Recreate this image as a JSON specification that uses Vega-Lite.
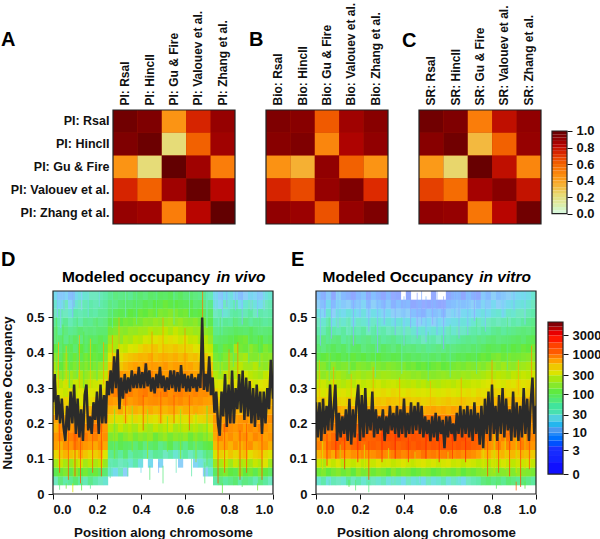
{"$schema":"https://vega.github.io/schema/vega-lite/v6.json","padding":{"left":0,"top":2,"right":0,"bottom":0},"background":"white","config":{"view":{"stroke":null},"font":"Liberation Sans","axis":{"labelFont":"Liberation Sans","titleFont":"Liberation Sans","labelFontWeight":"bold","titleFontWeight":"bold","labelColor":"#111","titleColor":"#111","tickColor":"#111","domainColor":"#111","grid":false},"title":{"font":"Liberation Sans","fontWeight":"bold","fontSize":20,"anchor":"start","frame":"group","color":"#000"}},
"datasets":{"frame":[{"f":1}],
"streakD":[{"x":0.02,"y":0.5,"y2":0.575,"n":6},{"x":0.035,"y":0.47,"y2":0.575,"n":8},{"x":0.05,"y":0.52,"y2":0.575,"n":5},{"x":0.09,"y":0.5,"y2":0.575,"n":4},{"x":0.096,"y":0.53,"y2":0.575,"n":3},{"x":0.13,"y":0.52,"y2":0.575,"n":10},{"x":0.16,"y":0.5,"y2":0.575,"n":15},{"x":0.21,"y":0.53,"y2":0.575,"n":12},{"x":0.74,"y":0.52,"y2":0.575,"n":10},{"x":0.77,"y":0.5,"y2":0.575,"n":6},{"x":0.79,"y":0.53,"y2":0.575,"n":4},{"x":0.8,"y":0.5,"y2":0.575,"n":12},{"x":0.83,"y":0.52,"y2":0.575,"n":5},{"x":0.86,"y":0.48,"y2":0.575,"n":5},{"x":0.9,"y":0.52,"y2":0.575,"n":8},{"x":0.93,"y":0.5,"y2":0.575,"n":6},{"x":0.96,"y":0.52,"y2":0.575,"n":10},
{"x":0.03,"y":0.06,"y2":0.2,"n":1400},{"x":0.07,"y":0.04,"y2":0.18,"n":1200},{"x":0.1,"y":0.05,"y2":0.17,"n":1500},{"x":0.125,"y":0.03,"y2":0.2,"n":1300},{"x":0.18,"y":0.06,"y2":0.18,"n":1200},{"x":0.22,"y":0.05,"y2":0.2,"n":1500},{"x":0.75,"y":0.03,"y2":0.18,"n":1400},{"x":0.78,"y":0.06,"y2":0.2,"n":1200},{"x":0.85,"y":0.04,"y2":0.18,"n":1500},{"x":0.88,"y":0.06,"y2":0.2,"n":1300},{"x":0.95,"y":0.04,"y2":0.19,"n":1500},
{"x":0.68,"y":0.3,"y2":0.575,"n":900},{"x":0.6,"y":0.35,"y2":0.47,"n":700},{"x":0.5,"y":0.36,"y2":0.5,"n":600},{"x":0.45,"y":0.35,"y2":0.46,"n":700},{"x":0.3,"y":0.35,"y2":0.5,"n":500},{"x":0.27,"y":0.33,"y2":0.45,"n":700},{"x":0.84,"y":0.33,"y2":0.43,"n":800},{"x":0.8,"y":0.3,"y2":0.41,"n":700},
{"x":0.28,"y":0.1,"y2":0.24,"n":120},{"x":0.36,"y":0.12,"y2":0.25,"n":150},{"x":0.43,"y":0.1,"y2":0.24,"n":180},{"x":0.52,"y":0.12,"y2":0.22,"n":120},{"x":0.58,"y":0.1,"y2":0.24,"n":150},{"x":0.65,"y":0.09,"y2":0.23,"n":180},{"x":0.7,"y":0.08,"y2":0.25,"n":100},
{"x":0.33,"y":0.2,"y2":0.29,"n":1200},{"x":0.41,"y":0.18,"y2":0.28,"n":1400},{"x":0.49,"y":0.2,"y2":0.29,"n":1200},{"x":0.55,"y":0.2,"y2":0.28,"n":1400},{"x":0.62,"y":0.18,"y2":0.28,"n":1200},
{"x":0.27,"y":0.47,"y2":0.575,"n":40},{"x":0.33,"y":0.5,"y2":0.575,"n":30},{"x":0.38,"y":0.48,"y2":0.575,"n":45},{"x":0.47,"y":0.5,"y2":0.575,"n":50},{"x":0.55,"y":0.48,"y2":0.575,"n":40},{"x":0.62,"y":0.5,"y2":0.575,"n":30},{"x":0.7,"y":0.47,"y2":0.575,"n":20},
{"x":0.015,"y":0.33,"y2":0.5,"n":90},{"x":0.045,"y":0.32,"y2":0.48,"n":100},{"x":0.075,"y":0.3,"y2":0.45,"n":80},{"x":0.11,"y":0.33,"y2":0.5,"n":70},{"x":0.14,"y":0.3,"y2":0.46,"n":100},{"x":0.2,"y":0.32,"y2":0.5,"n":80},{"x":0.025,"y":0.3,"y2":0.43,"n":500},{"x":0.06,"y":0.31,"y2":0.42,"n":400},{"x":0.12,"y":0.3,"y2":0.45,"n":500},{"x":0.17,"y":0.3,"y2":0.44,"n":400},{"x":0.23,"y":0.31,"y2":0.43,"n":600},{"x":0.76,"y":0.34,"y2":0.5,"n":80},{"x":0.82,"y":0.36,"y2":0.5,"n":70},{"x":0.89,"y":0.37,"y2":0.5,"n":60},{"x":0.94,"y":0.36,"y2":0.5,"n":70},
{"x":0.26,"y":0.045,"y2":0.09,"n":40},{"x":0.3,"y":0.06,"y2":0.1,"n":30},{"x":0.34,"y":0.05,"y2":0.09,"n":50},{"x":0.4,"y":0.06,"y2":0.1,"n":15},{"x":0.44,"y":0.04,"y2":0.08,"n":60},{"x":0.48,"y":0.06,"y2":0.09,"n":5},{"x":0.5,"y":0.03,"y2":0.08,"n":60},{"x":0.56,"y":0.06,"y2":0.1,"n":30},{"x":0.63,"y":0.05,"y2":0.1,"n":40},{"x":0.69,"y":0.03,"y2":0.09,"n":60},{"x":0.03,"y":0.012,"y2":0.03,"n":60},{"x":0.06,"y":0.015,"y2":0.03,"n":120},{"x":0.09,"y":0.005,"y2":0.03,"n":300},{"x":0.13,"y":0.01,"y2":0.03,"n":100},{"x":0.17,"y":0.015,"y2":0.03,"n":50},{"x":0.77,"y":0.003,"y2":0.03,"n":100},{"x":0.86,"y":0.02,"y2":0.04,"n":80},{"x":0.93,"y":0.01,"y2":0.03,"n":120}],
"streakE":[{"x":0.02,"y":0.42,"y2":0.575,"n":5},{"x":0.04,"y":0.5,"y2":0.575,"n":3},{"x":0.07,"y":0.44,"y2":0.575,"n":4},{"x":0.1,"y":0.47,"y2":0.575,"n":6},{"x":0.17,"y":0.42,"y2":0.575,"n":3},{"x":0.2,"y":0.5,"y2":0.575,"n":5},{"x":0.24,"y":0.46,"y2":0.575,"n":4},{"x":0.28,"y":0.4,"y2":0.56,"n":5},{"x":0.31,"y":0.48,"y2":0.575,"n":3},{"x":0.36,"y":0.45,"y2":0.575,"n":4},{"x":0.4,"y":0.42,"y2":0.56,"n":6},{"x":0.43,"y":0.47,"y2":0.575,"n":3},{"x":0.46,"y":0.44,"y2":0.57,"n":2},{"x":0.48,"y":0.48,"y2":0.575,"n":4},{"x":0.5,"y":0.43,"y2":0.56,"n":5},{"x":0.53,"y":0.48,"y2":0.575,"n":2},{"x":0.55,"y":0.45,"y2":0.575,"n":4},{"x":0.58,"y":0.41,"y2":0.56,"n":3},{"x":0.63,"y":0.5,"y2":0.575,"n":6},{"x":0.65,"y":0.44,"y2":0.575,"n":4},{"x":0.69,"y":0.45,"y2":0.575,"n":5},{"x":0.72,"y":0.49,"y2":0.575,"n":3},{"x":0.77,"y":0.46,"y2":0.575,"n":6},{"x":0.85,"y":0.5,"y2":0.575,"n":7},{"x":0.9,"y":0.52,"y2":0.575,"n":5},{"x":0.95,"y":0.48,"y2":0.575,"n":8},
{"x":0.05,"y":0.08,"y2":0.17,"n":1800},{"x":0.09,"y":0.1,"y2":0.17,"n":2000},{"x":0.13,"y":0.07,"y2":0.16,"n":1800},{"x":0.19,"y":0.09,"y2":0.17,"n":2000},{"x":0.24,"y":0.04,"y2":0.15,"n":1500},{"x":0.3,"y":0.09,"y2":0.18,"n":2000},{"x":0.36,"y":0.1,"y2":0.17,"n":2200},{"x":0.42,"y":0.09,"y2":0.16,"n":1800},{"x":0.5,"y":0.1,"y2":0.17,"n":2200},{"x":0.56,"y":0.09,"y2":0.16,"n":2000},{"x":0.62,"y":0.1,"y2":0.17,"n":1800},{"x":0.68,"y":0.09,"y2":0.16,"n":2000},{"x":0.78,"y":0.05,"y2":0.15,"n":1400},{"x":0.83,"y":0.06,"y2":0.16,"n":1500},{"x":0.88,"y":0.05,"y2":0.15,"n":1600},{"x":0.93,"y":0.02,"y2":0.16,"n":1500},{"x":0.97,"y":0.07,"y2":0.15,"n":1400},
{"x":0.03,"y":0.07,"y2":0.15,"n":300},{"x":0.11,"y":0.08,"y2":0.14,"n":250},{"x":0.22,"y":0.07,"y2":0.14,"n":300},{"x":0.33,"y":0.08,"y2":0.13,"n":280},{"x":0.45,"y":0.08,"y2":0.12,"n":300},{"x":0.6,"y":0.08,"y2":0.12,"n":300},{"x":0.76,"y":0.07,"y2":0.18,"n":300},{"x":0.81,"y":0.06,"y2":0.17,"n":250},{"x":0.86,"y":0.07,"y2":0.16,"n":300},{"x":0.91,"y":0.06,"y2":0.16,"n":280},{"x":0.95,"y":0.07,"y2":0.17,"n":350},
{"x":0.015,"y":0.27,"y2":0.38,"n":500},{"x":0.08,"y":0.26,"y2":0.36,"n":600},{"x":0.16,"y":0.25,"y2":0.34,"n":500},{"x":0.26,"y":0.25,"y2":0.36,"n":600},{"x":0.38,"y":0.24,"y2":0.33,"n":600},{"x":0.52,"y":0.24,"y2":0.32,"n":500},{"x":0.66,"y":0.24,"y2":0.33,"n":600},{"x":0.8,"y":0.27,"y2":0.38,"n":700},{"x":0.92,"y":0.28,"y2":0.38,"n":500},{"x":0.98,"y":0.3,"y2":0.42,"n":700},
{"x":0.06,"y":0.32,"y2":0.5,"n":60},{"x":0.15,"y":0.34,"y2":0.5,"n":40},{"x":0.27,"y":0.33,"y2":0.48,"n":50},{"x":0.39,"y":0.34,"y2":0.5,"n":35},{"x":0.51,"y":0.32,"y2":0.46,"n":50},{"x":0.61,"y":0.33,"y2":0.48,"n":40},{"x":0.73,"y":0.34,"y2":0.5,"n":50},{"x":0.87,"y":0.35,"y2":0.5,"n":60},
{"x":0.06,"y":0.025,"y2":0.04,"n":40},{"x":0.15,"y":0.02,"y2":0.04,"n":100},{"x":0.18,"y":0.01,"y2":0.04,"n":70},{"x":0.24,"y":0.005,"y2":0.035,"n":60},{"x":0.35,"y":0.03,"y2":0.05,"n":15},{"x":0.47,"y":0.03,"y2":0.05,"n":10},{"x":0.65,"y":0.03,"y2":0.05,"n":12},{"x":0.82,"y":0.015,"y2":0.035,"n":80},{"x":0.91,"y":0.01,"y2":0.035,"n":1000},{"x":0.95,"y":0.015,"y2":0.035,"n":100}],
"heatD":[
{"p":0.011,"2":30,"3":90,"4":180,"5":350,"6":600,"7":650,"8":500,"9":600,"10":400,"11":350,"12":320,"13":300,"14":260,"15":200,"16":150,"17":100,"18":60,"19":60,"20":45,"21":30,"22":25,"23":15},
{"p":0.034,"2":60,"3":110,"4":250,"5":400,"6":500,"7":750,"8":700,"9":500,"10":450,"11":300,"12":280,"13":220,"14":150,"15":100,"16":80,"17":70,"18":70,"19":45,"20":40,"21":35,"22":15,"23":8},
{"p":0.057,"2":40,"3":130,"4":200,"5":500,"6":700,"7":600,"8":800,"9":550,"10":400,"11":380,"12":250,"13":270,"14":170,"15":140,"16":120,"17":80,"18":55,"19":60,"20":50,"21":30,"22":30,"23":12},
{"p":0.08,"2":50,"3":90,"4":170,"5":450,"6":650,"7":800,"8":650,"9":600,"10":500,"11":320,"12":320,"13":200,"14":190,"15":110,"16":90,"17":90,"18":65,"19":50,"20":35,"21":25,"22":12,"23":6},
{"p":0.102,"2":70,"3":140,"4":220,"5":380,"6":800,"7":900,"8":750,"9":550,"10":420,"11":350,"12":260,"13":260,"14":150,"15":130,"16":110,"17":70,"18":80,"19":55,"20":45,"21":40,"22":25,"23":15},
{"p":0.125,"2":45,"3":100,"4":260,"5":550,"6":750,"7":700,"8":850,"9":600,"10":380,"11":300,"12":300,"13":230,"14":200,"15":120,"16":90,"17":100,"18":60,"19":70,"20":40,"21":35,"22":30,"23":20},
{"p":0.148,"2":35,"3":120,"4":190,"5":420,"6":650,"7":850,"8":700,"9":500,"10":450,"11":400,"12":270,"13":210,"14":160,"15":140,"16":120,"17":75,"18":70,"19":60,"20":55,"21":40,"22":35,"23":25},
{"p":0.17,"2":55,"3":90,"4":230,"5":350,"6":600,"7":700,"8":780,"9":650,"10":500,"11":330,"12":300,"13":240,"14":180,"15":110,"16":100,"17":90,"18":80,"19":65,"20":50,"21":45,"22":40,"23":30},
{"p":0.193,"2":40,"3":110,"4":200,"5":380,"6":550,"7":800,"8":900,"9":700,"10":480,"11":380,"12":290,"13":260,"14":170,"15":130,"16":110,"17":100,"18":75,"19":60,"20":60,"21":40,"22":35,"23":30},
{"p":0.216,"2":30,"3":80,"4":240,"5":450,"6":700,"7":650,"8":720,"9":620,"10":520,"11":360,"12":340,"13":280,"14":200,"15":150,"16":100,"17":85,"18":90,"19":70,"20":55,"21":50,"22":40,"23":35},
{"p":0.239,"2":25,"3":70,"4":160,"5":300,"6":550,"7":700,"8":650,"9":700,"10":550,"11":420,"12":380,"13":320,"14":240,"15":170,"16":130,"17":110,"18":80,"19":70,"20":60,"21":50,"22":45,"23":40},
{"p":0.261,"3":25,"4":35,"5":50,"6":80,"7":130,"8":220,"9":350,"10":500,"11":650,"12":700,"13":650,"14":600,"15":420,"16":300,"17":220,"18":170,"19":120,"20":90,"21":70,"22":60,"23":50},
{"p":0.284,"3":15,"4":40,"5":60,"6":70,"7":160,"8":180,"9":320,"10":450,"11":600,"12":800,"13":700,"14":500,"15":500,"16":350,"17":200,"18":200,"19":130,"20":110,"21":80,"22":55,"23":60},
{"p":0.307,"3":30,"4":30,"5":45,"6":90,"7":110,"8":250,"9":280,"10":550,"11":550,"12":650,"13":750,"14":650,"15":400,"16":320,"17":260,"18":150,"19":150,"20":100,"21":90,"22":70,"23":55},
{"p":0.33,"3":10,"4":35,"5":70,"6":80,"7":140,"8":200,"9":360,"10":400,"11":700,"12":750,"13":650,"14":600,"15":480,"16":380,"17":240,"18":210,"19":140,"20":120,"21":85,"22":75,"23":60},
{"p":0.352,"4":25,"5":40,"6":75,"7":170,"8":230,"9":300,"10":480,"11":620,"12":800,"13":800,"14":550,"15":550,"16":420,"17":300,"18":190,"19":170,"20":110,"21":100,"22":70,"23":50},
{"p":0.375,"4":40,"5":55,"6":65,"7":120,"8":190,"9":340,"10":520,"11":680,"12":700,"13":850,"14":700,"15":600,"16":450,"17":280,"18":240,"19":160,"20":130,"21":90,"22":80,"23":65},
{"p":0.398,"4":20,"5":50,"6":85,"7":150,"8":260,"9":290,"10":450,"11":750,"12":780,"13":700,"14":750,"15":550,"16":500,"17":350,"18":220,"19":190,"20":120,"21":110,"22":75,"23":70},
{"p":0.42,"5":40,"6":60,"7":130,"8":210,"9":350,"10":500,"11":650,"12":850,"13":800,"14":700,"15":650,"16":480,"17":400,"18":280,"19":180,"20":150,"21":100,"22":90,"23":60},
{"p":0.443,"4":15,"5":35,"6":70,"7":160,"8":180,"9":330,"10":550,"11":700,"12":700,"13":750,"14":800,"15":600,"16":550,"17":380,"18":260,"19":220,"20":140,"21":120,"22":80,"23":75},
{"p":0.466,"5":50,"6":80,"7":110,"8":240,"9":300,"10":470,"11":720,"12":800,"13":850,"14":650,"15":620,"16":450,"17":420,"18":300,"19":200,"20":170,"21":110,"22":100,"23":70},
{"p":0.489,"4":12,"5":45,"6":55,"7":140,"8":200,"9":380,"10":520,"11":680,"12":750,"13":700,"14":750,"15":580,"16":500,"17":350,"18":330,"19":210,"20":150,"21":130,"22":90,"23":80},
{"p":0.511,"5":30,"6":65,"7":170,"8":230,"9":320,"10":480,"11":650,"12":850,"13":780,"14":620,"15":650,"16":520,"17":400,"18":280,"19":240,"20":160,"21":120,"22":110,"23":75},
{"p":0.534,"5":40,"6":90,"7":120,"8":260,"9":350,"10":550,"11":720,"12":700,"13":820,"14":700,"15":560,"16":480,"17":380,"18":320,"19":200,"20":180,"21":140,"22":95,"23":85},
{"p":0.557,"5":25,"6":60,"7":150,"8":190,"9":300,"10":500,"11":680,"12":780,"13":750,"14":720,"15":620,"16":530,"17":420,"18":300,"19":250,"20":150,"21":130,"22":100,"23":70},
{"p":0.58,"4":10,"5":35,"6":70,"7":130,"8":220,"9":340,"10":460,"11":740,"12":820,"13":700,"14":650,"15":600,"16":450,"17":370,"18":260,"19":210,"20":170,"21":110,"22":90,"23":80},
{"p":0.602,"5":45,"6":55,"7":160,"8":240,"9":310,"10":520,"11":650,"12":750,"13":800,"14":680,"15":540,"16":500,"17":340,"18":290,"19":190,"20":140,"21":120,"22":85,"23":65},
{"p":0.625,"5":30,"6":80,"7":110,"8":200,"9":360,"10":480,"11":700,"12":720,"13":720,"14":620,"15":580,"16":420,"17":360,"18":240,"19":200,"20":130,"21":100,"22":90,"23":70},
{"p":0.648,"4":12,"5":40,"6":65,"7":140,"8":230,"9":300,"10":550,"11":640,"12":780,"13":680,"14":600,"15":500,"16":450,"17":300,"18":250,"19":170,"20":150,"21":90,"22":70,"23":60},
{"p":0.67,"4":20,"5":35,"6":75,"7":120,"8":180,"9":340,"10":500,"11":680,"12":700,"13":700,"14":550,"15":520,"16":380,"17":320,"18":200,"19":180,"20":120,"21":100,"22":75,"23":55},
{"p":0.693,"3":10,"4":30,"5":50,"6":90,"7":150,"8":210,"9":360,"10":470,"11":620,"12":720,"13":620,"14":580,"15":450,"16":400,"17":260,"18":220,"19":150,"20":110,"21":80,"22":60,"23":50},
{"p":0.716,"3":25,"4":40,"5":60,"6":100,"7":180,"8":260,"9":400,"10":520,"11":600,"12":650,"13":600,"14":500,"15":420,"16":300,"17":240,"18":160,"19":130,"20":90,"21":75,"22":55,"23":35},
{"p":0.739,"2":40,"3":80,"4":170,"5":280,"6":450,"7":550,"8":600,"9":650,"10":600,"11":480,"12":380,"13":280,"14":210,"15":150,"16":120,"17":100,"18":70,"19":55,"20":45,"21":30,"22":20,"23":15},
{"p":0.761,"2":60,"3":110,"4":200,"5":380,"6":550,"7":750,"8":620,"9":580,"10":450,"11":400,"12":320,"13":300,"14":180,"15":170,"16":110,"17":85,"18":75,"19":50,"20":35,"21":35,"22":12,"23":8},
{"p":0.784,"2":45,"3":130,"4":240,"5":320,"6":600,"7":600,"8":800,"9":620,"10":520,"11":380,"12":350,"13":260,"14":240,"15":140,"16":130,"17":110,"18":80,"19":65,"20":50,"21":25,"22":30,"23":15},
{"p":0.807,"2":55,"3":100,"4":180,"5":420,"6":500,"7":700,"8":700,"9":700,"10":450,"11":450,"12":300,"13":280,"14":200,"15":180,"16":150,"17":100,"18":90,"19":70,"20":45,"21":40,"22":25,"23":20},
{"p":0.83,"2":70,"3":90,"4":260,"5":350,"6":650,"7":580,"8":650,"9":600,"10":550,"11":400,"12":380,"13":320,"14":220,"15":200,"16":140,"17":200,"18":100,"19":80,"20":60,"21":45,"22":35,"23":12},
{"p":0.852,"2":40,"3":140,"4":200,"5":400,"6":500,"7":650,"8":750,"9":650,"10":480,"11":420,"12":340,"13":300,"14":260,"15":230,"16":170,"17":120,"18":110,"19":75,"20":50,"21":40,"22":15,"23":6},
{"p":0.875,"2":60,"3":100,"4":220,"5":450,"6":600,"7":700,"8":600,"9":700,"10":550,"11":380,"12":420,"13":280,"14":280,"15":190,"16":200,"17":110,"18":120,"19":70,"20":60,"21":35,"22":25,"23":10},
{"p":0.898,"2":50,"3":120,"4":190,"5":320,"6":700,"7":600,"8":720,"9":600,"10":500,"11":500,"12":330,"13":350,"14":230,"15":180,"16":140,"17":150,"18":90,"19":85,"20":45,"21":45,"22":30,"23":15},
{"p":0.92,"2":35,"3":90,"4":250,"5":380,"6":520,"7":750,"8":650,"9":680,"10":450,"11":420,"12":380,"13":270,"14":210,"15":220,"16":130,"17":120,"18":80,"19":70,"20":55,"21":30,"22":20,"23":12},
{"p":0.943,"2":60,"3":130,"4":210,"5":420,"6":580,"7":650,"8":780,"9":600,"10":520,"11":380,"12":350,"13":300,"14":190,"15":170,"16":160,"17":100,"18":100,"19":60,"20":50,"21":40,"22":15,"23":8},
{"p":0.966,"2":45,"3":100,"4":300,"5":350,"6":650,"7":600,"8":680,"9":650,"10":480,"11":450,"12":320,"13":320,"14":240,"15":150,"16":140,"17":130,"18":75,"19":65,"20":45,"21":35,"22":30,"23":20},
{"p":0.989,"2":30,"3":80,"4":180,"5":300,"6":500,"7":650,"8":600,"9":700,"10":550,"11":500,"12":400,"13":350,"14":280,"15":200,"16":150,"17":110,"18":85,"19":70,"20":50,"21":40,"22":35,"23":25}],
"heatE":[
{"p":0.011,"2":25,"3":110,"4":250,"5":500,"6":800,"7":700,"8":600,"9":550,"10":450,"11":380,"12":320,"13":240,"14":180,"15":130,"16":90,"17":70,"18":55,"19":40,"20":30,"21":20,"22":10,"23":6},
{"p":0.034,"2":40,"3":130,"4":200,"5":600,"6":700,"7":850,"8":700,"9":650,"10":400,"11":420,"12":280,"13":260,"14":150,"15":140,"16":100,"17":60,"18":60,"19":35,"20":25,"21":12,"22":6,"23":4},
{"p":0.057,"2":20,"3":100,"4":280,"5":700,"6":900,"7":800,"8":850,"9":600,"10":500,"11":350,"12":320,"13":220,"14":190,"15":110,"16":110,"17":75,"18":50,"19":50,"20":35,"21":25,"22":15,"23":8},
{"p":0.08,"2":35,"3":120,"4":240,"5":550,"6":1000,"7":950,"8":800,"9":700,"10":450,"11":400,"12":300,"13":250,"14":160,"15":150,"16":90,"17":85,"18":60,"19":40,"20":20,"21":10,"22":5,"23":3},
{"p":0.102,"2":30,"3":140,"4":300,"5":750,"6":1100,"7":1000,"8":900,"9":650,"10":550,"11":370,"12":290,"13":230,"14":200,"15":120,"16":100,"17":70,"18":65,"19":35,"20":30,"21":20,"22":12,"23":10},
{"p":0.125,"2":25,"3":110,"4":220,"5":650,"6":950,"7":1100,"8":850,"9":750,"10":500,"11":350,"12":310,"13":210,"14":170,"15":130,"16":85,"17":80,"18":45,"19":45,"20":25,"21":15,"22":8,"23":5},
{"p":0.148,"2":45,"3":130,"4":260,"5":600,"6":850,"7":900,"8":1000,"9":680,"10":420,"11":400,"12":270,"13":240,"14":150,"15":140,"16":95,"17":65,"18":55,"19":30,"20":30,"21":22,"22":10,"23":4},
{"p":0.17,"2":30,"3":100,"4":240,"5":700,"6":1000,"7":950,"8":800,"9":720,"10":560,"11":360,"12":300,"13":220,"14":180,"15":110,"16":105,"17":75,"18":60,"19":40,"20":20,"21":18,"22":6,"23":3},
{"p":0.193,"2":40,"3":150,"4":280,"5":650,"6":1100,"7":1000,"8":950,"9":650,"10":500,"11":390,"12":340,"13":260,"14":200,"15":140,"16":90,"17":80,"18":50,"19":35,"20":28,"21":14,"22":8,"23":5},
{"p":0.216,"2":25,"3":120,"4":230,"5":750,"6":950,"7":1150,"8":850,"9":700,"10":480,"11":420,"12":300,"13":230,"14":170,"15":130,"16":100,"17":60,"18":55,"19":45,"20":25,"21":20,"22":12,"23":7},
{"p":0.239,"2":35,"3":130,"4":270,"5":650,"6":1000,"7":1000,"8":900,"9":750,"10":550,"11":380,"12":310,"13":250,"14":190,"15":120,"16":85,"17":70,"18":60,"19":30,"20":22,"21":12,"22":5,"23":3},
{"p":0.261,"2":30,"3":110,"4":250,"5":700,"6":1100,"7":1050,"8":1000,"9":700,"10":500,"11":400,"12":330,"13":240,"14":180,"15":150,"16":95,"17":75,"18":50,"19":40,"20":28,"21":18,"22":10,"23":6},
{"p":0.284,"2":25,"3":130,"4":300,"5":800,"6":1000,"7":1150,"8":950,"9":800,"10":520,"11":430,"12":320,"13":270,"14":170,"15":130,"16":100,"17":65,"18":55,"19":35,"20":25,"21":15,"22":7,"23":4},
{"p":0.307,"2":35,"3":120,"4":260,"5":750,"6":1150,"7":1200,"8":1050,"9":750,"10":580,"11":400,"12":340,"13":230,"14":190,"15":120,"16":90,"17":80,"18":45,"19":40,"20":20,"21":12,"22":5,"23":3},
{"p":0.33,"2":20,"3":100,"4":280,"5":700,"6":1100,"7":1300,"8":1100,"9":850,"10":600,"11":450,"12":310,"13":250,"14":180,"15":140,"16":85,"17":70,"18":50,"19":30,"20":24,"21":14,"22":8,"23":5},
{"p":0.352,"2":30,"3":140,"4":240,"5":800,"6":1200,"7":1250,"8":1200,"9":800,"10":550,"11":420,"12":350,"13":260,"14":170,"15":130,"16":95,"17":60,"18":55,"19":35,"20":18,"21":10,"22":4,"23":2},
{"p":0.375,"2":25,"3":110,"4":270,"5":850,"6":1000,"7":1350,"8":1100,"9":900,"10":620,"11":400,"12":320,"13":240,"14":160,"15":120,"16":90,"17":75,"18":45,"19":30,"20":22,"21":10,"22":6,"23":3},
{"p":0.398,"2":15,"3":130,"4":300,"5":750,"6":1100,"7":1200,"8":1250,"9":850,"10":580,"11":430,"12":300,"13":230,"14":180,"15":130,"16":80,"17":65,"18":50,"19":28,"20":16,"21":8,"22":4},
{"p":0.42,"2":30,"3":120,"4":260,"5":800,"6":1250,"7":1150,"8":1150,"9":800,"10":600,"11":410,"12":330,"13":220,"14":170,"15":110,"16":85,"17":60,"18":40,"19":30,"20":18,"21":10,"22":5,"23":3},
{"p":0.443,"2":20,"3":100,"4":240,"5":850,"6":1100,"7":1300,"8":1050,"9":850,"10":550,"11":380,"12":310,"13":240,"14":150,"15":120,"16":75,"17":65,"18":35,"19":25,"20":14,"21":6,"22":3},
{"p":0.466,"2":25,"3":110,"4":280,"5":750,"6":1300,"7":1250,"8":1100,"9":750,"10":580,"11":400,"12":290,"13":210,"14":160,"15":100,"16":80,"17":55,"18":40,"19":22,"20":10,"21":5,"22":4},
{"p":0.489,"2":15,"3":130,"4":300,"5":900,"6":1200,"7":1150,"8":1200,"9":800,"10":520,"11":360,"12":300,"13":230,"14":140,"15":110,"16":70,"17":60,"18":30,"19":25,"20":12,"21":4,"22":2},
{"p":0.511,"2":30,"3":120,"4":260,"5":800,"6":1100,"7":1300,"8":1250,"9":850,"10":560,"11":380,"12":280,"13":200,"14":150,"15":100,"16":75,"17":50,"18":35,"19":20,"20":14,"21":8,"22":3},
{"p":0.534,"2":20,"3":100,"4":290,"5":850,"6":1250,"7":1200,"8":1100,"9":900,"10":600,"11":400,"12":310,"13":220,"14":140,"15":110,"16":80,"17":55,"18":40,"19":25,"20":10,"21":6,"22":4,"23":2},
{"p":0.557,"2":25,"3":110,"4":250,"5":750,"6":1150,"7":1350,"8":1200,"9":820,"10":540,"11":370,"12":290,"13":210,"14":150,"15":120,"16":70,"17":60,"18":30,"19":22,"20":14,"21":8,"22":3},
{"p":0.58,"2":35,"3":130,"4":280,"5":800,"6":1300,"7":1250,"8":1050,"9":780,"10":580,"11":390,"12":300,"13":230,"14":160,"15":100,"16":85,"17":55,"18":40,"19":25,"20":12,"21":5,"22":2},
{"p":0.602,"2":20,"3":120,"4":300,"5":850,"6":1200,"7":1150,"8":1150,"9":850,"10":520,"11":420,"12":320,"13":240,"14":150,"15":110,"16":75,"17":65,"18":35,"19":30,"20":15,"21":10,"22":5,"23":3},
{"p":0.625,"2":30,"3":110,"4":250,"5":750,"6":1100,"7":1300,"8":1100,"9":800,"10":600,"11":380,"12":300,"13":220,"14":170,"15":120,"16":80,"17":60,"18":40,"19":25,"20":18,"21":12,"22":6,"23":4},
{"p":0.648,"2":25,"3":130,"4":270,"5":800,"6":1250,"7":1200,"8":1000,"9":750,"10":550,"11":400,"12":280,"13":250,"14":160,"15":130,"16":90,"17":65,"18":45,"19":30,"20":20,"21":10,"22":8,"23":5},
{"p":0.67,"2":15,"3":100,"4":240,"5":700,"6":1100,"7":1250,"8":1150,"9":820,"10":500,"11":430,"12":310,"13":230,"14":180,"15":120,"16":85,"17":70,"18":50,"19":28,"20":22,"21":14,"22":6,"23":3},
{"p":0.693,"2":30,"3":120,"4":280,"5":750,"6":1200,"7":1100,"8":1050,"9":780,"10":580,"11":400,"12":330,"13":240,"14":170,"15":140,"16":95,"17":65,"18":55,"19":35,"20":20,"21":15,"22":8,"23":6},
{"p":0.716,"2":35,"3":110,"4":260,"5":700,"6":1050,"7":1200,"8":1000,"9":850,"10":520,"11":380,"12":300,"13":260,"14":190,"15":130,"16":90,"17":75,"18":50,"19":40,"20":25,"21":12,"22":10,"23":4},
{"p":0.739,"2":40,"3":130,"4":230,"5":600,"6":1000,"7":1050,"8":950,"9":750,"10":560,"11":420,"12":340,"13":250,"14":180,"15":150,"16":100,"17":70,"18":60,"19":35,"20":30,"21":15,"22":6,"23":3},
{"p":0.761,"2":60,"3":140,"4":250,"5":450,"6":800,"7":850,"8":1000,"9":700,"10":500,"11":400,"12":320,"13":280,"14":200,"15":130,"16":110,"17":80,"18":55,"19":45,"20":25,"21":20,"22":12,"23":8},
{"p":0.784,"2":70,"3":150,"4":220,"5":500,"6":700,"7":900,"8":750,"9":800,"10":550,"11":450,"12":340,"13":300,"14":220,"15":160,"16":100,"17":90,"18":65,"19":40,"20":30,"21":15,"22":8,"23":5},
{"p":0.807,"2":55,"3":160,"4":270,"5":400,"6":650,"7":750,"8":850,"9":700,"10":650,"11":480,"12":380,"13":320,"14":210,"15":170,"16":120,"17":85,"18":70,"19":50,"20":35,"21":22,"22":14,"23":10},
{"p":0.83,"2":65,"3":130,"4":240,"5":450,"6":800,"7":650,"8":800,"9":650,"10":600,"11":500,"12":360,"13":300,"14":230,"15":150,"16":130,"17":80,"18":60,"19":55,"20":30,"21":25,"22":10,"23":6},
{"p":0.852,"2":50,"3":140,"4":280,"5":500,"6":600,"7":800,"8":700,"9":750,"10":520,"11":450,"12":400,"13":280,"14":220,"15":180,"16":110,"17":95,"18":65,"19":45,"20":35,"21":18,"22":12,"23":8},
{"p":0.875,"2":70,"3":150,"4":250,"5":420,"6":750,"7":900,"8":850,"9":650,"10":620,"11":480,"12":350,"13":320,"14":200,"15":160,"16":125,"17":85,"18":70,"19":50,"20":30,"21":28,"22":15,"23":10},
{"p":0.898,"2":60,"3":130,"4":230,"5":480,"6":650,"7":700,"8":900,"9":700,"10":550,"11":500,"12":380,"13":300,"14":240,"15":150,"16":115,"17":100,"18":75,"19":55,"20":40,"21":25,"22":18,"23":12},
{"p":0.92,"2":50,"3":160,"4":270,"5":420,"6":700,"7":850,"8":750,"9":800,"10":600,"11":450,"12":360,"13":340,"14":220,"15":170,"16":120,"17":90,"18":80,"19":60,"20":35,"21":30,"22":20,"23":14},
{"p":0.943,"2":65,"3":140,"4":250,"5":500,"6":800,"7":750,"8":800,"9":650,"10":550,"11":480,"12":340,"13":310,"14":250,"15":180,"16":130,"17":110,"18":70,"19":65,"20":45,"21":30,"22":22,"23":16},
{"p":0.966,"2":55,"3":130,"4":280,"5":450,"6":700,"7":800,"8":700,"9":720,"10":600,"11":500,"12":380,"13":330,"14":230,"15":200,"16":140,"17":100,"18":85,"19":60,"20":50,"21":35,"22":25,"23":18},
{"p":0.989,"2":45,"3":120,"4":240,"5":400,"6":650,"7":750,"8":650,"9":650,"10":550,"11":450,"12":420,"13":350,"14":260,"15":210,"16":150,"17":120,"18":90,"19":70,"20":55,"21":40,"22":30,"23":25}],
"lineD":[{"x":0,"y":0.26},{"x":0.008,"y":0.34},{"x":0.016,"y":0.21},{"x":0.024,"y":0.28},{"x":0.032,"y":0.2},{"x":0.04,"y":0.27},{"x":0.048,"y":0.19},{"x":0.056,"y":0.15},{"x":0.064,"y":0.25},{"x":0.072,"y":0.18},{"x":0.08,"y":0.29},{"x":0.088,"y":0.2},{"x":0.096,"y":0.31},{"x":0.104,"y":0.17},{"x":0.112,"y":0.27},{"x":0.12,"y":0.16},{"x":0.128,"y":0.24},{"x":0.136,"y":0.15},{"x":0.144,"y":0.28},{"x":0.152,"y":0.31},{"x":0.16,"y":0.18},{"x":0.168,"y":0.22},{"x":0.176,"y":0.17},{"x":0.184,"y":0.26},{"x":0.192,"y":0.21},{"x":0.2,"y":0.29},{"x":0.208,"y":0.17},{"x":0.216,"y":0.31},{"x":0.224,"y":0.2},{"x":0.232,"y":0.28},{"x":0.24,"y":0.2},{"x":0.246,"y":0.32},{"x":0.254,"y":0.28},{"x":0.262,"y":0.35},{"x":0.27,"y":0.285},{"x":0.278,"y":0.39},{"x":0.286,"y":0.3},{"x":0.294,"y":0.41},{"x":0.302,"y":0.24},{"x":0.31,"y":0.33},{"x":0.318,"y":0.27},{"x":0.326,"y":0.34},{"x":0.334,"y":0.285},{"x":0.342,"y":0.33},{"x":0.35,"y":0.29},{"x":0.358,"y":0.35},{"x":0.366,"y":0.3},{"x":0.374,"y":0.34},{"x":0.382,"y":0.3},{"x":0.39,"y":0.36},{"x":0.398,"y":0.3},{"x":0.406,"y":0.345},{"x":0.414,"y":0.3},{"x":0.422,"y":0.37},{"x":0.43,"y":0.305},{"x":0.438,"y":0.35},{"x":0.446,"y":0.29},{"x":0.454,"y":0.33},{"x":0.462,"y":0.285},{"x":0.47,"y":0.34},{"x":0.478,"y":0.3},{"x":0.486,"y":0.36},{"x":0.494,"y":0.3},{"x":0.502,"y":0.335},{"x":0.51,"y":0.29},{"x":0.518,"y":0.33},{"x":0.526,"y":0.295},{"x":0.534,"y":0.35},{"x":0.542,"y":0.3},{"x":0.55,"y":0.35},{"x":0.558,"y":0.29},{"x":0.566,"y":0.345},{"x":0.574,"y":0.29},{"x":0.582,"y":0.365},{"x":0.59,"y":0.3},{"x":0.598,"y":0.34},{"x":0.606,"y":0.29},{"x":0.614,"y":0.335},{"x":0.622,"y":0.29},{"x":0.63,"y":0.34},{"x":0.638,"y":0.3},{"x":0.646,"y":0.33},{"x":0.654,"y":0.29},{"x":0.662,"y":0.34},{"x":0.67,"y":0.3},{"x":0.678,"y":0.5},{"x":0.686,"y":0.295},{"x":0.694,"y":0.34},{"x":0.702,"y":0.29},{"x":0.71,"y":0.39},{"x":0.718,"y":0.28},{"x":0.726,"y":0.33},{"x":0.734,"y":0.23},{"x":0.742,"y":0.29},{"x":0.75,"y":0.2},{"x":0.758,"y":0.165},{"x":0.766,"y":0.29},{"x":0.774,"y":0.22},{"x":0.782,"y":0.34},{"x":0.79,"y":0.19},{"x":0.798,"y":0.31},{"x":0.806,"y":0.2},{"x":0.814,"y":0.35},{"x":0.822,"y":0.2},{"x":0.83,"y":0.3},{"x":0.838,"y":0.24},{"x":0.846,"y":0.34},{"x":0.854,"y":0.23},{"x":0.862,"y":0.35},{"x":0.87,"y":0.21},{"x":0.878,"y":0.33},{"x":0.886,"y":0.22},{"x":0.894,"y":0.32},{"x":0.902,"y":0.2},{"x":0.91,"y":0.3},{"x":0.918,"y":0.19},{"x":0.926,"y":0.31},{"x":0.934,"y":0.21},{"x":0.942,"y":0.29},{"x":0.95,"y":0.17},{"x":0.958,"y":0.29},{"x":0.966,"y":0.2},{"x":0.974,"y":0.3},{"x":0.982,"y":0.24},{"x":0.99,"y":0.38},{"x":1,"y":0.27}],
"lineE":[{"x":0,"y":0.26},{"x":0.008,"y":0.16},{"x":0.016,"y":0.26},{"x":0.024,"y":0.15},{"x":0.032,"y":0.27},{"x":0.04,"y":0.17},{"x":0.048,"y":0.25},{"x":0.056,"y":0.18},{"x":0.064,"y":0.31},{"x":0.072,"y":0.18},{"x":0.08,"y":0.24},{"x":0.088,"y":0.31},{"x":0.096,"y":0.15},{"x":0.104,"y":0.23},{"x":0.112,"y":0.16},{"x":0.12,"y":0.22},{"x":0.128,"y":0.17},{"x":0.136,"y":0.24},{"x":0.144,"y":0.15},{"x":0.152,"y":0.27},{"x":0.16,"y":0.14},{"x":0.168,"y":0.24},{"x":0.176,"y":0.16},{"x":0.184,"y":0.26},{"x":0.192,"y":0.31},{"x":0.2,"y":0.15},{"x":0.208,"y":0.28},{"x":0.216,"y":0.16},{"x":0.224,"y":0.3},{"x":0.232,"y":0.17},{"x":0.24,"y":0.24},{"x":0.248,"y":0.18},{"x":0.256,"y":0.29},{"x":0.264,"y":0.16},{"x":0.272,"y":0.24},{"x":0.28,"y":0.17},{"x":0.288,"y":0.22},{"x":0.296,"y":0.18},{"x":0.304,"y":0.24},{"x":0.312,"y":0.15},{"x":0.32,"y":0.22},{"x":0.328,"y":0.17},{"x":0.336,"y":0.25},{"x":0.344,"y":0.18},{"x":0.352,"y":0.23},{"x":0.36,"y":0.17},{"x":0.368,"y":0.25},{"x":0.376,"y":0.16},{"x":0.384,"y":0.24},{"x":0.392,"y":0.17},{"x":0.4,"y":0.27},{"x":0.408,"y":0.16},{"x":0.416,"y":0.23},{"x":0.424,"y":0.17},{"x":0.432,"y":0.26},{"x":0.44,"y":0.17},{"x":0.448,"y":0.25},{"x":0.456,"y":0.18},{"x":0.464,"y":0.26},{"x":0.472,"y":0.17},{"x":0.48,"y":0.25},{"x":0.488,"y":0.16},{"x":0.496,"y":0.22},{"x":0.504,"y":0.17},{"x":0.512,"y":0.21},{"x":0.52,"y":0.15},{"x":0.528,"y":0.22},{"x":0.536,"y":0.16},{"x":0.544,"y":0.23},{"x":0.552,"y":0.15},{"x":0.56,"y":0.22},{"x":0.568,"y":0.17},{"x":0.576,"y":0.21},{"x":0.584,"y":0.13},{"x":0.592,"y":0.22},{"x":0.6,"y":0.16},{"x":0.608,"y":0.22},{"x":0.616,"y":0.17},{"x":0.624,"y":0.2},{"x":0.632,"y":0.15},{"x":0.64,"y":0.23},{"x":0.648,"y":0.17},{"x":0.656,"y":0.25},{"x":0.664,"y":0.16},{"x":0.672,"y":0.24},{"x":0.68,"y":0.17},{"x":0.688,"y":0.25},{"x":0.696,"y":0.16},{"x":0.704,"y":0.24},{"x":0.712,"y":0.15},{"x":0.72,"y":0.26},{"x":0.728,"y":0.17},{"x":0.736,"y":0.23},{"x":0.744,"y":0.14},{"x":0.752,"y":0.25},{"x":0.76,"y":0.13},{"x":0.768,"y":0.27},{"x":0.776,"y":0.17},{"x":0.784,"y":0.29},{"x":0.792,"y":0.15},{"x":0.8,"y":0.31},{"x":0.808,"y":0.17},{"x":0.816,"y":0.25},{"x":0.824,"y":0.15},{"x":0.832,"y":0.28},{"x":0.84,"y":0.17},{"x":0.848,"y":0.3},{"x":0.856,"y":0.16},{"x":0.864,"y":0.27},{"x":0.872,"y":0.18},{"x":0.88,"y":0.24},{"x":0.888,"y":0.15},{"x":0.896,"y":0.29},{"x":0.904,"y":0.16},{"x":0.912,"y":0.26},{"x":0.92,"y":0.15},{"x":0.928,"y":0.25},{"x":0.936,"y":0.16},{"x":0.944,"y":0.3},{"x":0.952,"y":0.17},{"x":0.96,"y":0.27},{"x":0.968,"y":0.15},{"x":0.976,"y":0.26},{"x":0.984,"y":0.33},{"x":0.992,"y":0.17},{"x":1,"y":0.25}],
"barA":[{"v":0,"v2":0.04},{"v":0.04,"v2":0.08},{"v":0.08,"v2":0.12},{"v":0.12,"v2":0.16},{"v":0.16,"v2":0.2},{"v":0.2,"v2":0.24},{"v":0.24,"v2":0.28},{"v":0.28,"v2":0.32},{"v":0.32,"v2":0.36},{"v":0.36,"v2":0.4},{"v":0.4,"v2":0.44},{"v":0.44,"v2":0.48},{"v":0.48,"v2":0.52},{"v":0.52,"v2":0.56},{"v":0.56,"v2":0.6},{"v":0.6,"v2":0.64},{"v":0.64,"v2":0.68},{"v":0.68,"v2":0.72},{"v":0.72,"v2":0.76},{"v":0.76,"v2":0.8},{"v":0.8,"v2":0.84},{"v":0.84,"v2":0.88},{"v":0.88,"v2":0.92},{"v":0.92,"v2":0.96},{"v":0.96,"v2":1}],
"barE":[{"v":0,"v2":1},{"v":1,"v2":2},{"v":2,"v2":3},{"v":3,"v2":4},{"v":4,"v2":6},{"v":6,"v2":8},{"v":8,"v2":10},{"v":10,"v2":14},{"v":14,"v2":20},{"v":20,"v2":30},{"v":30,"v2":40},{"v":40,"v2":60},{"v":60,"v2":80},{"v":80,"v2":100},{"v":100,"v2":140},{"v":140,"v2":200},{"v":200,"v2":300},{"v":300,"v2":400},{"v":400,"v2":600},{"v":600,"v2":800},{"v":800,"v2":1000},{"v":1000,"v2":1400},{"v":1400,"v2":2000},{"v":2000,"v2":3000},{"v":3000,"v2":4000},{"v":4000,"v2":5000},{"v":5000,"v2":6500}],
"cellsA":[{"r":"PI: RsaI","c":"PI: RsaI","v":0.95},{"r":"PI: RsaI","c":"PI: HincII","v":0.92},{"r":"PI: RsaI","c":"PI: Gu & Fire","v":0.42},{"r":"PI: RsaI","c":"PI: Valouev et al.","v":0.72},{"r":"PI: RsaI","c":"PI: Zhang et al.","v":0.87},{"r":"PI: HincII","c":"PI: RsaI","v":0.92},{"r":"PI: HincII","c":"PI: HincII","v":0.96},{"r":"PI: HincII","c":"PI: Gu & Fire","v":0.2},{"r":"PI: HincII","c":"PI: Valouev et al.","v":0.58},{"r":"PI: HincII","c":"PI: Zhang et al.","v":0.85},{"r":"PI: Gu & Fire","c":"PI: RsaI","v":0.42},{"r":"PI: Gu & Fire","c":"PI: HincII","v":0.2},{"r":"PI: Gu & Fire","c":"PI: Gu & Fire","v":0.98},{"r":"PI: Gu & Fire","c":"PI: Valouev et al.","v":0.85},{"r":"PI: Gu & Fire","c":"PI: Zhang et al.","v":0.5},{"r":"PI: Valouev et al.","c":"PI: RsaI","v":0.72},{"r":"PI: Valouev et al.","c":"PI: HincII","v":0.58},{"r":"PI: Valouev et al.","c":"PI: Gu & Fire","v":0.85},{"r":"PI: Valouev et al.","c":"PI: Valouev et al.","v":0.97},{"r":"PI: Valouev et al.","c":"PI: Zhang et al.","v":0.8},{"r":"PI: Zhang et al.","c":"PI: RsaI","v":0.87},{"r":"PI: Zhang et al.","c":"PI: HincII","v":0.85},{"r":"PI: Zhang et al.","c":"PI: Gu & Fire","v":0.5},{"r":"PI: Zhang et al.","c":"PI: Valouev et al.","v":0.8},{"r":"PI: Zhang et al.","c":"PI: Zhang et al.","v":0.98}],
"cellsB":[{"r":"Bio: RsaI","c":"Bio: RsaI","v":0.92},{"r":"Bio: RsaI","c":"Bio: HincII","v":0.9},{"r":"Bio: RsaI","c":"Bio: Gu & Fire","v":0.6},{"r":"Bio: RsaI","c":"Bio: Valouev et al.","v":0.85},{"r":"Bio: RsaI","c":"Bio: Zhang et al.","v":0.9},{"r":"Bio: HincII","c":"Bio: RsaI","v":0.9},{"r":"Bio: HincII","c":"Bio: HincII","v":0.92},{"r":"Bio: HincII","c":"Bio: Gu & Fire","v":0.47},{"r":"Bio: HincII","c":"Bio: Valouev et al.","v":0.82},{"r":"Bio: HincII","c":"Bio: Zhang et al.","v":0.88},{"r":"Bio: Gu & Fire","c":"Bio: RsaI","v":0.43},{"r":"Bio: Gu & Fire","c":"Bio: HincII","v":0.33},{"r":"Bio: Gu & Fire","c":"Bio: Gu & Fire","v":0.88},{"r":"Bio: Gu & Fire","c":"Bio: Valouev et al.","v":0.58},{"r":"Bio: Gu & Fire","c":"Bio: Zhang et al.","v":0.42},{"r":"Bio: Valouev et al.","c":"Bio: RsaI","v":0.72},{"r":"Bio: Valouev et al.","c":"Bio: HincII","v":0.64},{"r":"Bio: Valouev et al.","c":"Bio: Gu & Fire","v":0.87},{"r":"Bio: Valouev et al.","c":"Bio: Valouev et al.","v":0.92},{"r":"Bio: Valouev et al.","c":"Bio: Zhang et al.","v":0.7},{"r":"Bio: Zhang et al.","c":"Bio: RsaI","v":0.88},{"r":"Bio: Zhang et al.","c":"Bio: HincII","v":0.86},{"r":"Bio: Zhang et al.","c":"Bio: Gu & Fire","v":0.62},{"r":"Bio: Zhang et al.","c":"Bio: Valouev et al.","v":0.87},{"r":"Bio: Zhang et al.","c":"Bio: Zhang et al.","v":0.92}],
"cellsC":[{"r":"SR: RsaI","c":"SR: RsaI","v":0.95},{"r":"SR: RsaI","c":"SR: HincII","v":0.92},{"r":"SR: RsaI","c":"SR: Gu & Fire","v":0.5},{"r":"SR: RsaI","c":"SR: Valouev et al.","v":0.78},{"r":"SR: RsaI","c":"SR: Zhang et al.","v":0.88},{"r":"SR: HincII","c":"SR: RsaI","v":0.9},{"r":"SR: HincII","c":"SR: HincII","v":0.95},{"r":"SR: HincII","c":"SR: Gu & Fire","v":0.3},{"r":"SR: HincII","c":"SR: Valouev et al.","v":0.58},{"r":"SR: HincII","c":"SR: Zhang et al.","v":0.87},{"r":"SR: Gu & Fire","c":"SR: RsaI","v":0.4},{"r":"SR: Gu & Fire","c":"SR: HincII","v":0.22},{"r":"SR: Gu & Fire","c":"SR: Gu & Fire","v":0.97},{"r":"SR: Gu & Fire","c":"SR: Valouev et al.","v":0.78},{"r":"SR: Gu & Fire","c":"SR: Zhang et al.","v":0.47},{"r":"SR: Valouev et al.","c":"SR: RsaI","v":0.66},{"r":"SR: Valouev et al.","c":"SR: HincII","v":0.55},{"r":"SR: Valouev et al.","c":"SR: Gu & Fire","v":0.84},{"r":"SR: Valouev et al.","c":"SR: Valouev et al.","v":0.9},{"r":"SR: Valouev et al.","c":"SR: Zhang et al.","v":0.77},{"r":"SR: Zhang et al.","c":"SR: RsaI","v":0.88},{"r":"SR: Zhang et al.","c":"SR: HincII","v":0.87},{"r":"SR: Zhang et al.","c":"SR: Gu & Fire","v":0.52},{"r":"SR: Zhang et al.","c":"SR: Valouev et al.","v":0.8},{"r":"SR: Zhang et al.","c":"SR: Zhang et al.","v":0.95}]},
"spacing":25,
"vconcat":[
{"bounds":"flush","spacing":11,"hconcat":[
{"width":49,"height":114,"data":{"name":"frame"},"mark":{"type":"rect","opacity":0},"encoding":{}},
{"width":122,"height":114,"title":{"text":"A","dx":-112,"dy":44},"layer":[{"data":{"name":"frame"},"mark":{"type":"rect","fill":"#b02000"},"encoding":{}},{"data":{"name":"cellsA"},"mark":"rect","encoding":{"x":{"field":"c","type":"nominal","sort":null,"title":null,"scale":{"domain":["PI: RsaI","PI: HincII","PI: Gu & Fire","PI: Valouev et al.","PI: Zhang et al."],"paddingInner":0,"paddingOuter":0},"axis":{"orient":"top","labelAngle":-90,"labelFontSize":12,"ticks":false,"domain":false,"labelPadding":5}},"y":{"field":"r","type":"nominal","title":null,"scale":{"domain":["PI: RsaI","PI: HincII","PI: Gu & Fire","PI: Valouev et al.","PI: Zhang et al."],"paddingInner":0,"paddingOuter":0},"axis":{"labelFontSize":12.5,"ticks":false,"domain":false,"labelPadding":4}},"color":{"field":"v","type":"quantitative","legend":null,"scale":{"domain":[0,0.1,0.2,0.3,0.4,0.5,0.6,0.7,0.8,0.9,1],"range":["#d8f8d8","#dfeaa0","#e6dc78","#f3b93f","#fb9a18","#fa7d0a","#f05a00","#dd2a00","#b80500","#880000","#5a0000"]}}}},{"data":{"name":"frame"},"mark":{"type":"rect","fill":null,"stroke":"#222","strokeWidth":1.2},"encoding":{}}]},
{"width":9,"height":114,"data":{"name":"frame"},"mark":{"type":"rect","opacity":0},"encoding":{}},
{"width":122,"height":114,"title":{"text":"B","dx":-17,"dy":52},"layer":[{"data":{"name":"frame"},"mark":{"type":"rect","fill":"#b02000"},"encoding":{}},{"data":{"name":"cellsB"},"mark":"rect","encoding":{"x":{"field":"c","type":"nominal","sort":null,"title":null,"scale":{"domain":["Bio: RsaI","Bio: HincII","Bio: Gu & Fire","Bio: Valouev et al.","Bio: Zhang et al."],"paddingInner":0,"paddingOuter":0},"axis":{"orient":"top","labelAngle":-90,"labelFontSize":12,"ticks":false,"domain":false,"labelPadding":5}},"y":{"field":"r","type":"nominal","title":null,"scale":{"domain":["Bio: RsaI","Bio: HincII","Bio: Gu & Fire","Bio: Valouev et al.","Bio: Zhang et al."],"paddingInner":0,"paddingOuter":0},"axis":null},"color":{"field":"v","type":"quantitative","legend":null,"scale":{"domain":[0,0.1,0.2,0.3,0.4,0.5,0.6,0.7,0.8,0.9,1],"range":["#d8f8d8","#dfeaa0","#e6dc78","#f3b93f","#fb9a18","#fa7d0a","#f05a00","#dd2a00","#b80500","#880000","#5a0000"]}}}},{"data":{"name":"frame"},"mark":{"type":"rect","fill":null,"stroke":"#222","strokeWidth":1.2},"encoding":{}}]},
{"width":9,"height":114,"data":{"name":"frame"},"mark":{"type":"rect","opacity":0},"encoding":{}},
{"width":122,"height":114,"title":{"text":"C","dx":-17,"dy":50},"layer":[{"data":{"name":"frame"},"mark":{"type":"rect","fill":"#b02000"},"encoding":{}},{"data":{"name":"cellsC"},"mark":"rect","encoding":{"x":{"field":"c","type":"nominal","sort":null,"title":null,"scale":{"domain":["SR: RsaI","SR: HincII","SR: Gu & Fire","SR: Valouev et al.","SR: Zhang et al."],"paddingInner":0,"paddingOuter":0},"axis":{"orient":"top","labelAngle":-90,"labelFontSize":12,"ticks":false,"domain":false,"labelPadding":5}},"y":{"field":"r","type":"nominal","title":null,"scale":{"domain":["SR: RsaI","SR: HincII","SR: Gu & Fire","SR: Valouev et al.","SR: Zhang et al."],"paddingInner":0,"paddingOuter":0},"axis":null},"color":{"field":"v","type":"quantitative","legend":null,"scale":{"domain":[0,0.1,0.2,0.3,0.4,0.5,0.6,0.7,0.8,0.9,1],"range":["#d8f8d8","#dfeaa0","#e6dc78","#f3b93f","#fb9a18","#fa7d0a","#f05a00","#dd2a00","#b80500","#880000","#5a0000"]}}}},{"data":{"name":"frame"},"mark":{"type":"rect","fill":null,"stroke":"#222","strokeWidth":1.2},"encoding":{}}]},
{"width":15,"height":114,"resolve":{"scale":{"y":"independent"},"axis":{"y":"independent"}},"layer":[{"data":{"name":"barA"},"mark":"rect","encoding":{"y":{"field":"v","type":"quantitative","title":null,"scale":{"domain":[-0.125,1.254]},"axis":{"orient":"right","values":[0,0.2,0.4,0.6,0.8,1],"format":".1f","labelFontSize":13,"labelOverlap":false,"domain":false,"tickSize":5,"labelPadding":4}},"y2":{"field":"v2"},"color":{"field":"v","type":"quantitative","legend":null,"scale":{"domain":[0,0.1,0.2,0.3,0.4,0.5,0.6,0.7,0.8,0.9,1],"range":["#d8f8d8","#dfeaa0","#e6dc78","#f3b93f","#fb9a18","#fa7d0a","#f05a00","#dd2a00","#b80500","#880000","#5a0000"]}}}},{"data":{"values":[{"v":0,"v2":1}]},"mark":{"type":"rect","fill":null,"stroke":"#222","strokeWidth":1.2},"encoding":{"y":{"field":"v","type":"quantitative","axis":null,"scale":{"domain":[-0.125,1.254]}},"y2":{"field":"v2"}}}]}
]},
{"bounds":"flush","spacing":12,"resolve":{"scale":{"color":"independent"}},"hconcat":[
{"width":220,"height":203,"title":{"text":"D","dx":-52,"dy":4},"resolve":{"scale":{"y":"independent"},"axis":{"y":"independent"}},"layer":[
{"data":{"name":"heatD"},"transform":[{"fold":["2","3","4","5","6","7","8","9","10","11","12","13","14","15","16","17","18","19","20","21","22","23"],"as":["k","n"]},{"filter":{"field":"n","valid":true}}],"mark":{"type":"rect","width":5.2,"height":9.1,"clip":true},"encoding":{"x":{"field":"p","type":"quantitative","title":"Position along chromosome","scale":{"domain":[0,1]},"axis":{"values":[0,0.2,0.4,0.6,0.8,1],"format":".1f","labelFontSize":13,"titleFontSize":13.3,"tickSize":5,"labelPadding":4,"titlePadding":9,"domain":false}},"y":{"field":"k","type":"quantitative","axis":null,"scale":{"domain":[0.5,23.5]}},"color":{"field":"n","type":"quantitative","legend":null,"scale":{"type":"symlog","constant":1,"domain":[0,3,10,20,30,60,100,200,300,600,1000,2000,3000,4500,6500],"range":["#a8b0ff","#90a8ff","#8ed0f8","#70e0e0","#70e8c0","#60ea80","#60ea40","#a8e810","#dce400","#ffa000","#ff6400","#ff2000","#e80000","#a00000","#400000"]}}}},
{"data":{"name":"streakD"},"mark":{"type":"rule","strokeWidth":1,"opacity":0.75,"clip":true},"encoding":{"x":{"field":"x","type":"quantitative"},"y":{"field":"y","type":"quantitative","axis":null,"scale":{"domain":[0,0.575]}},"y2":{"field":"y2"},"color":{"field":"n","type":"quantitative","legend":null,"scale":{"type":"symlog","constant":1,"domain":[0,3,10,20,30,60,100,200,300,600,1000,2000,3000,4500,6500],"range":["#a8b0ff","#90a8ff","#8ed0f8","#70e0e0","#70e8c0","#60ea80","#60ea40","#a8e810","#dce400","#ffa000","#ff6400","#ff2000","#e80000","#a00000","#400000"]}}}},
{"data":{"name":"lineD"},"mark":{"type":"line","color":"#2b2b2b","strokeWidth":2.5,"clip":true},"encoding":{"x":{"field":"x","type":"quantitative"},"y":{"field":"y","type":"quantitative","title":"Nucleosome Occupancy","scale":{"domain":[0,0.575]},"axis":{"values":[0,0.1,0.2,0.3,0.4,0.5],"labelExpr":"datum.value==0?'0':format(datum.value,'.1f')","labelFontSize":13,"titleFontSize":13.2,"tickSize":5,"domain":false,"labelPadding":4,"titlePadding":11}}}},
{"data":{"values":[{"x":0.714,"y":0.6,"t":"Modeled occupancy"}]},"mark":{"type":"text","align":"right","baseline":"alphabetic","font":"Liberation Sans","fontWeight":"bold","fontSize":15.5},"encoding":{"x":{"field":"x","type":"quantitative"},"y":{"field":"y","type":"quantitative","axis":null,"scale":{"domain":[0,0.575]}},"text":{"field":"t"}}},
{"data":{"values":[{"x":0.743,"y":0.6,"t":"in vivo"}]},"mark":{"type":"text","align":"left","baseline":"alphabetic","font":"Liberation Sans","fontWeight":"bold","fontStyle":"italic","fontSize":15.5},"encoding":{"x":{"field":"x","type":"quantitative"},"y":{"field":"y","type":"quantitative","axis":null,"scale":{"domain":[0,0.575]}},"text":{"field":"t"}}},
{"data":{"name":"frame"},"mark":{"type":"rect","fill":null,"stroke":"#222","strokeWidth":1.2},"encoding":{}}
]},
{"width":19,"height":203,"data":{"name":"frame"},"mark":{"type":"rect","opacity":0},"encoding":{}},
{"width":220,"height":203,"title":{"text":"E","dx":-25,"dy":4},"resolve":{"scale":{"y":"independent"},"axis":{"y":"independent"}},"layer":[
{"data":{"name":"heatE"},"transform":[{"fold":["2","3","4","5","6","7","8","9","10","11","12","13","14","15","16","17","18","19","20","21","22","23"],"as":["k","n"]},{"filter":{"field":"n","valid":true}}],"mark":{"type":"rect","width":5.2,"height":9.1,"clip":true},"encoding":{"x":{"field":"p","type":"quantitative","title":"Position along chromosome","scale":{"domain":[0,1]},"axis":{"values":[0,0.2,0.4,0.6,0.8,1],"format":".1f","labelFontSize":13,"titleFontSize":13.3,"tickSize":5,"labelPadding":4,"titlePadding":9,"domain":false}},"y":{"field":"k","type":"quantitative","axis":null,"scale":{"domain":[0.5,23.5]}},"color":{"field":"n","type":"quantitative","legend":null,"scale":{"type":"symlog","constant":1,"domain":[0,3,10,20,30,60,100,200,300,600,1000,2000,3000,4500,6500],"range":["#a8b0ff","#90a8ff","#8ed0f8","#70e0e0","#70e8c0","#60ea80","#60ea40","#a8e810","#dce400","#ffa000","#ff6400","#ff2000","#e80000","#a00000","#400000"]}}}},
{"data":{"name":"streakE"},"mark":{"type":"rule","strokeWidth":1,"opacity":0.75,"clip":true},"encoding":{"x":{"field":"x","type":"quantitative"},"y":{"field":"y","type":"quantitative","axis":null,"scale":{"domain":[0,0.575]}},"y2":{"field":"y2"},"color":{"field":"n","type":"quantitative","legend":null,"scale":{"type":"symlog","constant":1,"domain":[0,3,10,20,30,60,100,200,300,600,1000,2000,3000,4500,6500],"range":["#a8b0ff","#90a8ff","#8ed0f8","#70e0e0","#70e8c0","#60ea80","#60ea40","#a8e810","#dce400","#ffa000","#ff6400","#ff2000","#e80000","#a00000","#400000"]}}}},
{"data":{"name":"lineE"},"mark":{"type":"line","color":"#2b2b2b","strokeWidth":2.5,"clip":true},"encoding":{"x":{"field":"x","type":"quantitative"},"y":{"field":"y","type":"quantitative","title":null,"scale":{"domain":[0,0.575]},"axis":{"values":[0,0.1,0.2,0.3,0.4,0.5],"labelExpr":"datum.value==0?'0':format(datum.value,'.1f')","labelFontSize":13,"tickSize":5,"domain":false,"labelPadding":4}}}},
{"data":{"values":[{"x":0.715,"y":0.6,"t":"Modeled Occupancy"}]},"mark":{"type":"text","align":"right","baseline":"alphabetic","font":"Liberation Sans","fontWeight":"bold","fontSize":15.5},"encoding":{"x":{"field":"x","type":"quantitative"},"y":{"field":"y","type":"quantitative","axis":null,"scale":{"domain":[0,0.575]}},"text":{"field":"t"}}},
{"data":{"values":[{"x":0.742,"y":0.6,"t":"in vitro"}]},"mark":{"type":"text","align":"left","baseline":"alphabetic","font":"Liberation Sans","fontWeight":"bold","fontStyle":"italic","fontSize":15.5},"encoding":{"x":{"field":"x","type":"quantitative"},"y":{"field":"y","type":"quantitative","axis":null,"scale":{"domain":[0,0.575]}},"text":{"field":"t"}}},
{"data":{"name":"frame"},"mark":{"type":"rect","fill":null,"stroke":"#222","strokeWidth":1.2},"encoding":{}}
]},
{"width":15,"height":203,"resolve":{"scale":{"y":"independent"},"axis":{"y":"independent"}},"layer":[{"data":{"name":"barE"},"mark":"rect","encoding":{"y":{"field":"v","type":"quantitative","title":null,"scale":{"type":"symlog","constant":1,"domain":[-2.16,38900]},"axis":{"orient":"right","values":[0,3,10,30,100,300,1000,3000],"format":"d","labelFontSize":13,"labelOverlap":false,"domain":false,"tickSize":5,"labelPadding":4}},"y2":{"field":"v2"},"color":{"field":"v","type":"quantitative","legend":null,"scale":{"type":"symlog","constant":1,"domain":[0,3,10,20,30,60,100,200,300,600,1000,2000,3000,4500,6500],"range":["#1010ff","#1a30ff","#4a98f0","#50d0e0","#48e0b0","#50e878","#60ea40","#a8e810","#dce400","#ffa000","#ff5a00","#ff1800","#e80000","#a00000","#400000"]}}}},{"data":{"values":[{"v":0,"v2":6500}]},"mark":{"type":"rect","fill":null,"stroke":"#222","strokeWidth":1.2},"encoding":{"y":{"field":"v","type":"quantitative","axis":null,"scale":{"type":"symlog","constant":1,"domain":[-2.16,38900]}},"y2":{"field":"v2"}}}]}
]}
],"resolve":{"scale":{"color":"independent"}}}
